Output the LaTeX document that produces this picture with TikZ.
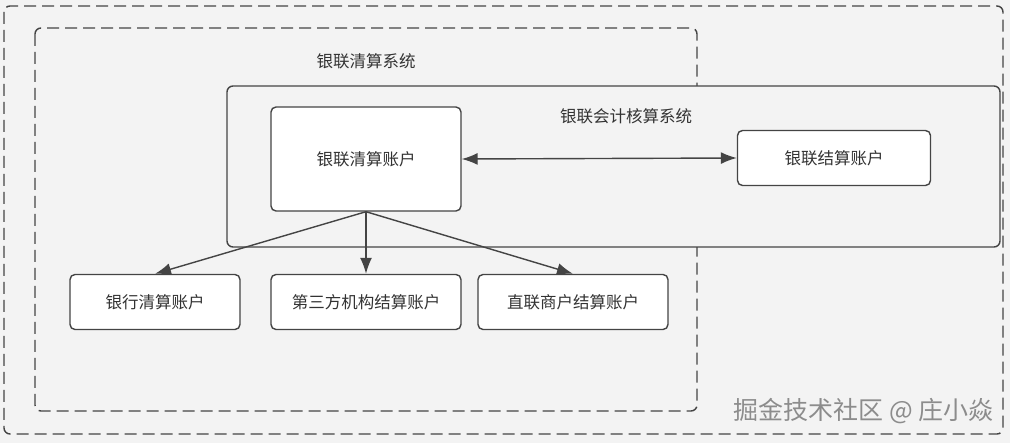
\documentclass[tikz,border=0pt]{standalone}
\usepackage{fontspec}
\setmainfont{Noto Sans CJK SC}
\usetikzlibrary{arrows.meta}
\definecolor{bggray}{HTML}{F3F3F3}
\definecolor{linegray}{HTML}{444444}
\begin{document}
\begin{tikzpicture}[x=1pt,y=-1pt,
  acct/.style={draw=linegray, line width=1.4pt, rounded corners=5pt, fill=white,
    text=black!80, font=\fontsize{16.5}{19}\selectfont},
  sysbox/.style={draw=linegray, line width=1.4pt, rounded corners=6pt, fill=bggray},
  dashbox/.style={draw=linegray, line width=1.4pt, rounded corners=6pt, dash pattern=on 12pt off 6pt},
  link/.style={draw=linegray, line width=1.4pt, -{Latex[length=16pt,width=12pt]}},
  title/.style={text=black!80, font=\fontsize{16.5}{19}\selectfont}]
\fill[bggray] (0,0) rectangle (1010,443);
\useasboundingbox (0,0) rectangle (1010,443);
% frames
\draw[dashbox] (4,6) rectangle (1003,434);
\draw[dashbox] (35,28) rectangle (697,411);
\draw[sysbox] (227,86) rectangle (1000,247);
\node[title] (qssys) at (366,61) {银联清算系统};
\node[title] (hssys) at (626,116) {银联会计核算系统};
% accounts
\node[acct, minimum width=190pt, minimum height=104pt] (qs) at (366,159) {银联清算账户};
\node[acct, minimum width=193pt, minimum height=55pt] (js) at (834,158) {银联结算账户};
\node[acct, minimum width=170pt, minimum height=55pt] (yh) at (155,302) {银行清算账户};
\node[acct, minimum width=190pt, minimum height=55pt] (dsf) at (366,302) {第三方机构结算账户};
\node[acct, minimum width=190pt, minimum height=55pt] (sh) at (573,302) {直联商户结算账户};
% links
\draw[link, {Latex[length=16pt,width=12pt]}-{Latex[length=16pt,width=12pt]}] (qs.east) -- (js.west);
\draw[link] (qs.south) -- (yh.north);
\draw[link] (qs.south) -- (dsf.north);
\draw[link] (qs.south) -- (sh.north);
% watermark
\node[text=gray!90, font=\fontsize{25}{28}\selectfont, anchor=east] (wm) at (997,411) {掘金技术社区 @ 庄小焱};
\end{tikzpicture}
\end{document}
